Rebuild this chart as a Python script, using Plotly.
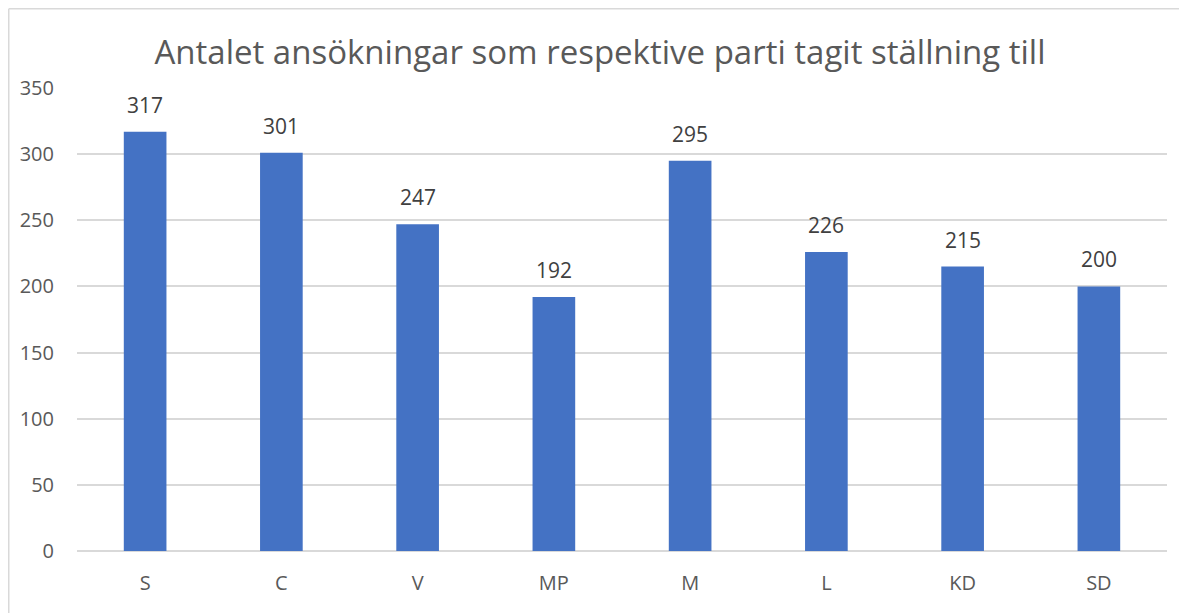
import plotly.graph_objects as go

categories = ["S", "C", "V", "MP", "M", "L", "KD", "SD"]
values = [317, 301, 247, 192, 295, 226, 215, 200]
y_ticks = [0, 50, 100, 150, 200, 250, 300, 350]
title_text = "Antalet ansökningar som respektive parti tagit ställning till"

FONT = "Open Sans"
OFF = 8  # page body margin offset

L, R, T, B = 77 - OFF, 1187 - (1167 - OFF), 88 - OFF, 613 - (551 - OFF)
PW, PH = 1187 - L - R, 613 - T - B

fig = go.Figure()
fig.add_trace(go.Bar(
    x=categories, y=values,
    marker=dict(color="#4472C4", line=dict(width=0)),
    hoverinfo="x+y",
))

for c, v in zip(categories, values):
    fig.add_annotation(x=c, y=v, text=str(v), showarrow=False,
                       yanchor="bottom", yshift=11,
                       font=dict(family=FONT, size=21, color="#404040"))

fig.update_layout(
    width=1187, height=613,
    margin=dict(l=L, r=R, t=T, b=B),
    paper_bgcolor="white", plot_bgcolor="white",
    bargap=0.687,
    showlegend=False,
    title=dict(text=title_text, x=(600 - OFF) / 1187, xanchor="center",
               y=1 - (52 - OFF) / 613, yanchor="middle",
               font=dict(family=FONT, size=33, color="#595959")),
    xaxis=dict(showgrid=False, showline=False, ticks="", zeroline=False,
               tickfont=dict(family=FONT, size=20, color="#595959"),
               ticklabelstandoff=18),
    yaxis=dict(range=[0, 350], tickvals=y_ticks, showgrid=True,
               gridcolor="#D9D9D9", gridwidth=1.5, zeroline=True,
               zerolinecolor="#D9D9D9", zerolinewidth=1.5, showline=False,
               ticks="", tickfont=dict(family=FONT, size=20, color="#595959"),
               ticklabelstandoff=22),
)

# chart border (Excel chart area outline), at the very edge of the figure
bx = (0.75 - L) / PW
by = 1 + (T - 0.75) / PH
fig.add_shape(type="line", xref="paper", yref="paper",
              x0=bx, x1=bx, y0=by, y1=-0.3,
              line=dict(color="#D9D9D9", width=1.5))
fig.add_shape(type="line", xref="paper", yref="paper",
              x0=bx, x1=1.1, y0=by, y1=by,
              line=dict(color="#D9D9D9", width=1.5))

fig.write_html("out.html")
